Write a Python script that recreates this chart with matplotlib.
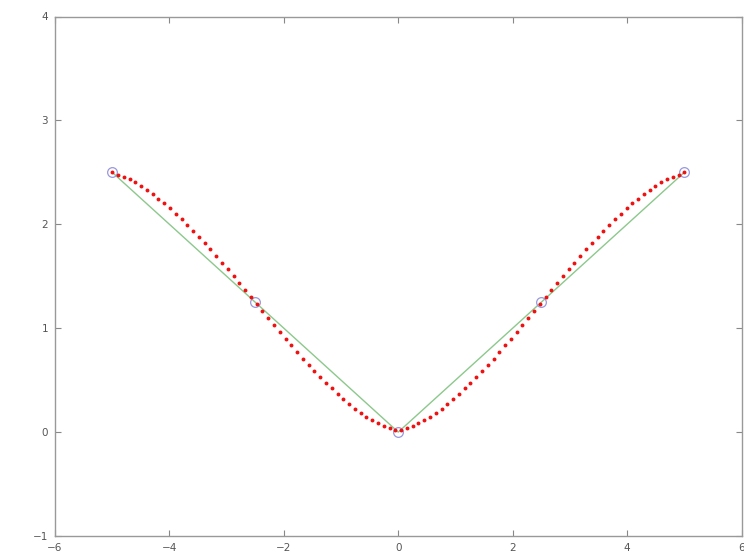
import matplotlib
matplotlib.use("Agg")
import matplotlib.pyplot as plt

# Sample points (circles + green polyline)
pts_x = [-5.0, -2.5, 0.0, 2.5, 5.0]
pts_y = [2.5, 1.25, 0.0, 1.25, 2.5]

# Red dotted curve: 100 evenly spaced x positions, y values
curve_x = [-5.0000, -4.8990, -4.7980, -4.6970, -4.5960, -4.4949, -4.3939, -4.2929, -4.1919, -4.0909,
           -3.9899, -3.8889, -3.7879, -3.6869, -3.5859, -3.4848, -3.3838, -3.2828, -3.1818, -3.0808,
           -2.9798, -2.8788, -2.7778, -2.6768, -2.5758, -2.4747, -2.3737, -2.2727, -2.1717, -2.0707,
           -1.9697, -1.8687, -1.7677, -1.6667, -1.5657, -1.4646, -1.3636, -1.2626, -1.1616, -1.0606,
           -0.9596, -0.8586, -0.7576, -0.6566, -0.5556, -0.4545, -0.3535, -0.2525, -0.1515, -0.0505,
           0.0505, 0.1515, 0.2525, 0.3535, 0.4545, 0.5556, 0.6566, 0.7576, 0.8586, 0.9596,
           1.0606, 1.1616, 1.2626, 1.3636, 1.4646, 1.5657, 1.6667, 1.7677, 1.8687, 1.9697,
           2.0707, 2.1717, 2.2727, 2.3737, 2.4747, 2.5758, 2.6768, 2.7778, 2.8788, 2.9798,
           3.0808, 3.1818, 3.2828, 3.3838, 3.4848, 3.5859, 3.6869, 3.7879, 3.8889, 3.9899,
           4.0909, 4.1919, 4.2929, 4.3939, 4.4949, 4.5960, 4.6970, 4.7980, 4.8990, 5.0000]
curve_y = [2.500, 2.477, 2.455, 2.433, 2.404, 2.369, 2.330, 2.292, 2.246, 2.202,
           2.154, 2.102, 2.050, 1.992, 1.938, 1.880, 1.822, 1.762, 1.695, 1.630,
           1.567, 1.502, 1.435, 1.368, 1.300, 1.233, 1.166, 1.098, 1.031, 0.963,
           0.899, 0.835, 0.770, 0.706, 0.649, 0.588, 0.530, 0.473, 0.422, 0.370,
           0.319, 0.270, 0.225, 0.187, 0.148, 0.114, 0.085, 0.059, 0.037, 0.020,
           0.020, 0.037, 0.059, 0.085, 0.114, 0.148, 0.187, 0.225, 0.270, 0.319,
           0.370, 0.422, 0.473, 0.530, 0.588, 0.649, 0.706, 0.770, 0.835, 0.899,
           0.963, 1.031, 1.098, 1.166, 1.233, 1.300, 1.368, 1.435, 1.502, 1.567,
           1.630, 1.695, 1.762, 1.822, 1.880, 1.938, 1.992, 2.050, 2.102, 2.154,
           2.202, 2.246, 2.292, 2.330, 2.369, 2.404, 2.433, 2.455, 2.477, 2.500]

x_ticks = [-6, -4, -2, 0, 2, 4, 6]
y_ticks = [-1, 0, 1, 2, 3, 4]

fig = plt.figure(figsize=(7.44, 5.55), dpi=100)
ax = fig.add_axes([55 / 744, 19 / 555, 686.5 / 744, 519.5 / 555])

ax.plot(pts_x, pts_y, color="#8cc88c", linewidth=1.0, zorder=2)
ax.plot(pts_x, pts_y, linestyle="none", marker="o", markersize=7,
        markerfacecolor="none", markeredgecolor="#9999dd", markeredgewidth=0.9, zorder=3)
ax.plot(curve_x, curve_y, linestyle="none", marker="o", markersize=2.8,
        color="#ee1111", markeredgewidth=0, zorder=4)

ax.set_xlim(-6, 6)
ax.set_ylim(-1, 4)
ax.set_xticks(x_ticks)
ax.set_yticks(y_ticks)
ax.set_xticklabels(["\u2212" + str(-t) if t < 0 else str(t) for t in x_ticks])
ax.set_yticklabels(["\u2212" + str(-t) if t < 0 else str(t) for t in y_ticks])

for s in ax.spines.values():
    s.set_color("#999999")
    s.set_linewidth(1.0)
ax.tick_params(direction="in", length=4, width=0.8, color="#888888",
               top=True, right=True, labelsize=7.5, labelcolor="#555555", pad=5)

fig.savefig("out.png", dpi=100)
